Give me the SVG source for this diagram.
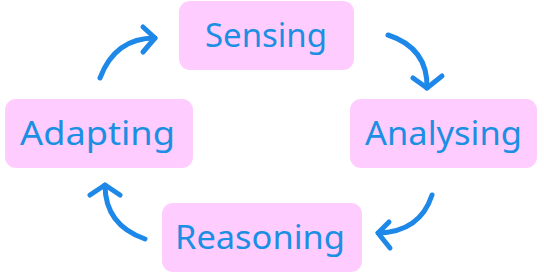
<svg xmlns="http://www.w3.org/2000/svg" width="544" height="280" viewBox="0 0 544 280">
<style>
.box{fill:#FFCCFF;}
.lbl{font-family:"Noto Sans","DejaVu Sans",sans-serif;font-size:33px;fill:#1B8FE3;text-anchor:middle;}
.arr{fill:none;stroke:#1E88E8;stroke-width:5;stroke-linecap:round;stroke-linejoin:round;}
</style>
<rect width="544" height="280" fill="#FFFFFF"/>
<g id="sensing"><rect class="box" x="179" y="1" width="175" height="69" rx="11"/><text class="lbl" x="266" y="47" textLength="122" lengthAdjust="spacingAndGlyphs">Sensing</text></g>
<g id="analysing"><rect class="box" x="350" y="99" width="187" height="69" rx="11"/><text class="lbl" x="443.5" y="145" textLength="157" lengthAdjust="spacingAndGlyphs">Analysing</text></g>
<g id="reasoning"><rect class="box" x="162" y="203" width="200" height="69" rx="11"/><text class="lbl" x="260" y="249" textLength="170" lengthAdjust="spacingAndGlyphs">Reasoning</text></g>
<g id="adapting"><rect class="box" x="5" y="99" width="188" height="69" rx="11"/><text class="lbl" x="97.5" y="145" textLength="155" lengthAdjust="spacingAndGlyphs">Adapting</text></g>
<g id="connectors">
<path class="arr" d="M388 35 Q428 48 427 88"/><path class="arr" d="M413 78 L427 88 L442 76"/>
<path class="arr" d="M432 195 Q420 232 378 233"/><path class="arr" d="M389 222 L378 233 L390 248"/>
<path class="arr" d="M145 239 Q105 225 105 185"/><path class="arr" d="M90 195 L105 185 L120 195"/>
<path class="arr" d="M100 78 Q115 38 155 38"/><path class="arr" d="M143 27 L155 38 L143 52"/>
</g>
</svg>
